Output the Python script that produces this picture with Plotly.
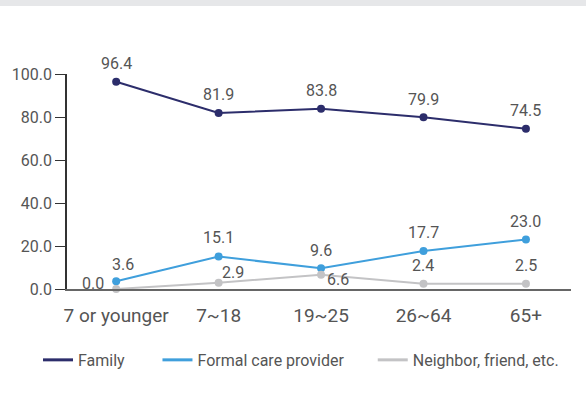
import plotly.graph_objects as go

categories = ["7 or younger", "7~18", "19~25", "26~64", "65+"]
family = [96.4, 81.9, 83.8, 79.9, 74.5]
formal = [3.6, 15.1, 9.6, 17.7, 23.0]
neighbor = [0.0, 2.9, 6.6, 2.4, 2.5]
y_ticks = [0, 20, 40, 60, 80, 100]
series_names = ["Family", "Formal care provider", "Neighbor, friend, etc."]

FONT = "Roboto"
TXT = "#555555"
COLORS = ["#2c2d6b", "#3f9fdc", "#c3c3c5"]
PAD = ["\u00a0" * 7, "\u00a0" * 6, ""]
# label offsets (px) of each value label from its point: (xshift, yshift)
OFFSETS = [
    [(0, 18)] * 5,
    [(7, 17), (0, 19), (0, 18), (0, 18), (0, 18)],
    [(-23, 6), (14, 10), (17, -5), (0, 18), (0, 18)],
]

fig = go.Figure()
xs = list(range(len(categories)))
annotations = []

for i, vals in enumerate([family, formal, neighbor]):
    color = COLORS[i]
    fig.add_trace(go.Scatter(
        x=xs, y=vals, name=series_names[i],
        mode="lines+markers",
        line=dict(color=color, width=2),
        marker=dict(color=color, size=8),
        cliponaxis=False, showlegend=False,
    ))
    fig.add_trace(go.Scatter(
        x=[None], y=[None], mode="lines", name=series_names[i] + PAD[i],
        line=dict(color=color, width=3), showlegend=True, hoverinfo="skip",
    ))
    for j, v in enumerate(vals):
        dx, dy = OFFSETS[i][j]
        annotations.append(dict(
            x=xs[j], y=v, xref="x", yref="y", text=f"{v:.1f}", showarrow=False,
            xanchor="center", yanchor="middle", xshift=dx, yshift=dy,
            font=dict(family=FONT, size=16, color=TXT),
        ))

fig.update_layout(
    width=586, height=400,
    margin=dict(l=67, r=15, t=74, b=111, autoexpand=False),
    paper_bgcolor="white", plot_bgcolor="white",
    font=dict(family=FONT, size=16, color=TXT),
    showlegend=True,
    legend=dict(orientation="h", x=-0.0575, xanchor="left", y=-0.33, yanchor="middle",
                font=dict(family=FONT, size=16, color=TXT),
                traceorder="normal", bgcolor="rgba(0,0,0,0)"),
    annotations=annotations,
    shapes=[dict(type="rect", xref="paper", yref="paper", x0=-0.2, x1=1.2,
                 y0=(289 - 6) / 215, y1=1.5, fillcolor="#e6e7e9", line=dict(width=0),
                 layer="above")],
)
fig.update_xaxes(
    range=[-0.48, 4.44], tickmode="array", tickvals=xs,
    ticktext=categories, showgrid=False, zeroline=False,
    showline=True, linecolor="#666666", linewidth=2, ticks="",
    ticklabelstandoff=8,
    tickfont=dict(family=FONT, size=19, color=TXT),
)
fig.update_yaxes(
    range=[0, 100], tickmode="array", tickvals=y_ticks,
    ticktext=[f"{v:.1f}" for v in y_ticks], showgrid=False, zeroline=False,
    showline=True, linecolor="#333333", linewidth=1.5, ticks="outside", ticklen=10,
    tickcolor="#333333", tickfont=dict(family=FONT, size=16, color=TXT),
)
fig.write_html("out.html", config={"displayModeBar": False},
               post_script="document.body.style.margin='0';")
